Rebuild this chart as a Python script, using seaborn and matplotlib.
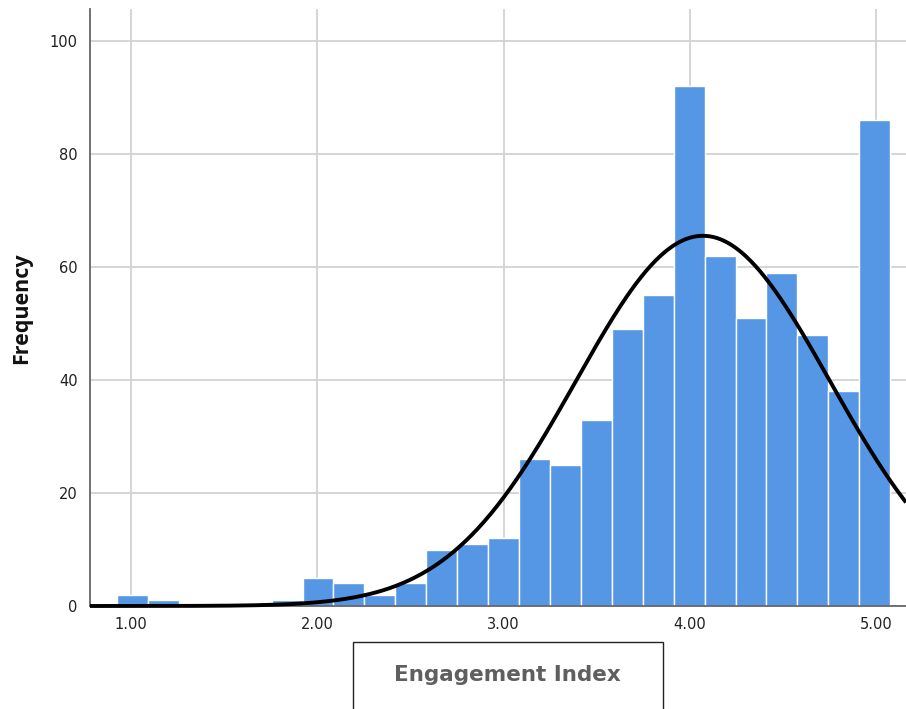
import numpy as np
import pandas as pd
import matplotlib
matplotlib.use("Agg")
import matplotlib.pyplot as plt
from matplotlib.patches import Rectangle
import seaborn as sns

# Histogram of the Engagement Index: 25 equal-width bins
bin_start = 0.925
bin_width = 0.166
counts = [2, 1, 0, 0, 0, 1, 5, 4, 2, 4, 10, 11, 12, 26, 25,
          33, 49, 55, 92, 62, 51, 59, 48, 38, 86]

# Fitted normal curve parameters
mean_val = 4.07
sd_val = 0.683

x_ticks = [1.0, 2.0, 3.0, 4.0, 5.0]
x_tick_labels = ["1.00", "2.00", "3.00", "4.00", "5.00"]
y_ticks = [0, 20, 40, 60, 80, 100]

bin_edges = [bin_start + bin_width * i for i in range(len(counts) + 1)]
bin_centers = [(a + b) / 2 for a, b in zip(bin_edges[:-1], bin_edges[1:])]
df = pd.DataFrame({"value": bin_centers, "count": counts})
n_total = sum(counts)

sns.set_theme(style="white")
plt.rcParams["font.family"] = ["DejaVu Sans"]

fig = plt.figure(figsize=(9.06, 7.09), dpi=100)
ax = fig.add_axes([90 / 906, 1 - 606 / 709, 1 - 90 / 906, (606 - 9) / 709])

sns.histplot(data=df, x="value", weights="count", bins=bin_edges,
             color="#5596e5", edgecolor="white", linewidth=1.0, alpha=1.0,
             ax=ax, zorder=2)

x_min, x_max = 0.78, 5.16
xs = np.linspace(x_min, x_max, 500)
ys = n_total * bin_width * np.exp(-0.5 * ((xs - mean_val) / sd_val) ** 2) / (sd_val * np.sqrt(2 * np.pi))
sns.lineplot(x=xs, y=ys, color="black", linewidth=2.8, ax=ax, zorder=4)
for line in ax.lines:
    line.set_clip_on(False)
    line.set_solid_capstyle("butt")

ax.set_xlim(x_min, x_max)
ax.set_ylim(0, 105.7)
ax.set_xticks(x_ticks)
ax.set_xticklabels(x_tick_labels)
ax.set_yticks(y_ticks)
ax.tick_params(axis="both", length=0, labelsize=10.5, labelcolor="#222222", pad=8)
ax.tick_params(axis="y", pad=9)

ax.set_axisbelow(True)
ax.grid(True, color="#d2d2d2", linewidth=1.3)

for side in ["top", "right"]:
    ax.spines[side].set_visible(False)
ax.spines["left"].set_color("#666666")
ax.spines["left"].set_linewidth(1.3)
ax.spines["bottom"].set_color("#666666")
ax.spines["bottom"].set_linewidth(1.3)

ax.set_ylabel("Frequency", fontsize=15.5, fontweight="bold", color="#111111",
              family=["Open Sans", "DejaVu Sans"])
ax.yaxis.set_label_coords((22 - 90) / (906 - 90), (606 - 308) / (606 - 9))
ax.yaxis.label.set_va("center")

ax.set_xlabel("Engagement Index", fontsize=15.5, fontweight="bold", color="#5f5f5f",
              family=["DejaVu Sans"])
ax.xaxis.set_label_coords((507 - 90) / (906 - 90), -(675 - 606) / (606 - 9))
ax.xaxis.label.set_va("center")

fig.patches.append(Rectangle((353 / 906, -0.02), (663 - 353) / 906, 0.02 + (709 - 642) / 709,
                             transform=fig.transFigure, fill=False,
                             edgecolor="#222222", linewidth=1.0))

fig.savefig("out.png", dpi=100)
